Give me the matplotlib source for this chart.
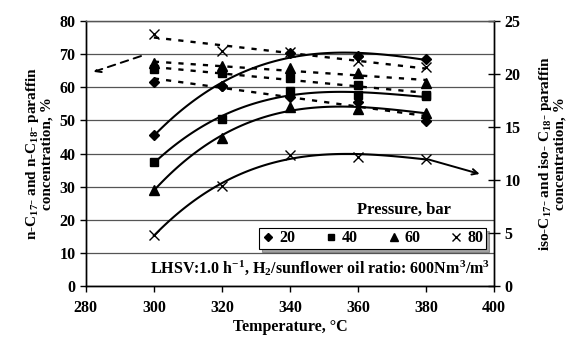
import matplotlib.pyplot as plt
import numpy as np
from matplotlib.lines import Line2D

plt.rcParams['font.family'] = ['Liberation Serif', 'DejaVu Serif']
plt.rcParams['font.weight'] = 'bold'
plt.rcParams['axes.labelweight'] = 'bold'
plt.rcParams['mathtext.fontset'] = 'custom'
plt.rcParams['mathtext.rm'] = 'Liberation Serif:bold'
plt.rcParams['mathtext.it'] = 'Liberation Serif:bold'
plt.rcParams['mathtext.bf'] = 'Liberation Serif:bold'

temps = [300, 320, 340, 360, 380]
pressures = ['20', '40', '60', '80']
markers = ['D', 's', '^', 'x']
msizes = [5, 6, 6.5, 7]

# n-C17 + n-C18 paraffins, left axis (dashed)
n_20 = [61.7, 60.5, 57.2, 55.7, 49.9]
n_40 = [65.6, 64.4, 62.7, 60.7, 57.7]
n_60 = [67.3, 66.3, 65.7, 64.2, 61.4]
n_80 = [76.1, 71.1, 70.7, 67.8, 66.0]

# iso-C17 + iso-C18 paraffins, right axis (solid)
iso_20 = [14.25, 18.9, 22.0, 21.7, 21.4]
iso_40 = [11.67, 15.75, 18.42, 18.0, 17.9]
iso_60 = [9.06, 14.0, 16.86, 16.67, 16.35]
iso_80 = [4.8, 9.46, 12.36, 12.2, 12.0]

n_series = [n_20, n_40, n_60, n_80]
iso_series = [iso_20, iso_40, iso_60, iso_80]

fig = plt.figure(figsize=(5.72, 3.40), dpi=100)
ax = fig.add_axes([0.150, 0.159, 0.714, 0.779])
ax2 = ax.twinx()

t = np.array(temps)
tt = np.linspace(300, 380, 100)
for vals, m, ms in zip(n_series, markers, msizes):
    c = np.polyfit(t, vals, 1)
    ax.plot(tt, np.polyval(c, tt), color='black', lw=1.7, linestyle=(0, (2.2, 3)))
    ax.plot(t, vals, linestyle='none', marker=m, color='black', ms=ms, mew=1)

for vals, m, ms in zip(iso_series, markers, msizes):
    c = np.polyfit(t, vals, 3)
    ax2.plot(tt, np.polyval(c, tt), color='black', lw=1.5)
    ax2.plot(t, vals, linestyle='none', marker=m, color='black', ms=ms, mew=1)

# arrows pointing to the matching axis
ax.annotate('', xy=(281.5, 64.4), xytext=(297, 69.7),
            arrowprops=dict(arrowstyle='->', color='black', lw=1.4, linestyle=(0, (4, 3))))
ax2.annotate('', xy=(396.5, 10.5), xytext=(380, 12.0),
             arrowprops=dict(arrowstyle='->', color='black', lw=1.4))

ax.set_xlim(280, 400)
ax.set_ylim(0, 80)
ax2.set_ylim(0, 25)
ax.set_xticks(np.arange(280, 401, 20))
ax.set_yticks(np.arange(0, 81, 10))
ax2.set_yticks(np.arange(0, 26, 5))
ax.yaxis.grid(True, color='#555555', lw=0.9)
ax.set_axisbelow(True)

for a in (ax, ax2):
    a.spines['top'].set_color('#555555')
    a.spines['top'].set_linewidth(0.9)
    for s in ('left', 'bottom', 'right'):
        a.spines[s].set_linewidth(1.0)
ax.tick_params(axis='both', labelsize=11.5, direction='out', length=4, width=1)
ax.tick_params(axis='x', pad=6)
ax2.tick_params(axis='y', labelsize=11.5, direction='inout', length=8, width=1)
for lbl in ax.get_xticklabels() + ax.get_yticklabels() + ax2.get_yticklabels():
    lbl.set_fontweight('bold')

ax.set_xlabel('Temperature, \u00b0C', fontsize=11.5, fontweight='bold', labelpad=2)
ax.set_ylabel('n-C$_{17}$- and n-C$_{18}$- paraffin\nconcentration, %', fontsize=11,
              fontweight='bold', labelpad=4, linespacing=0.95)
ax2.set_ylabel('iso-C$_{17}$- and iso- C$_{18}$- paraffin\nconcentration, %', fontsize=11,
               fontweight='bold', labelpad=12, rotation=90, linespacing=0.95)

handles = [Line2D([], [], linestyle='none', marker=m, color='black', ms=ms)
           for m, ms in zip(markers, [4.5, 5, 5.5, 6])]
leg = ax2.legend(handles, pressures, loc='lower left', bbox_to_anchor=(0.424, 0.14, 0.556, 0.086),
                 mode='expand', ncol=4, frameon=True, fancybox=False, shadow=True,
                 edgecolor='black', fontsize=11.5, handlelength=0.8, handletextpad=0.3,
                 borderpad=0.15, borderaxespad=0, columnspacing=1.0)
leg.get_frame().set_linewidth(0.8)
for txt in leg.get_texts():
    txt.set_fontweight('bold')

ax2.text(0.778, 0.287, 'Pressure, bar', transform=ax.transAxes, ha='center', va='center',
         fontsize=12, fontweight='bold', bbox=dict(facecolor='white', edgecolor='none', pad=1))
ax2.text(0.157, 0.065, 'LHSV:1.0 h$^{-1}$, H$_2$/sunflower oil ratio: 600Nm$^3$/m$^3$',
         transform=ax.transAxes, ha='left', va='center', fontsize=11.5, fontweight='bold')

fig.savefig('out.png', dpi=100)
